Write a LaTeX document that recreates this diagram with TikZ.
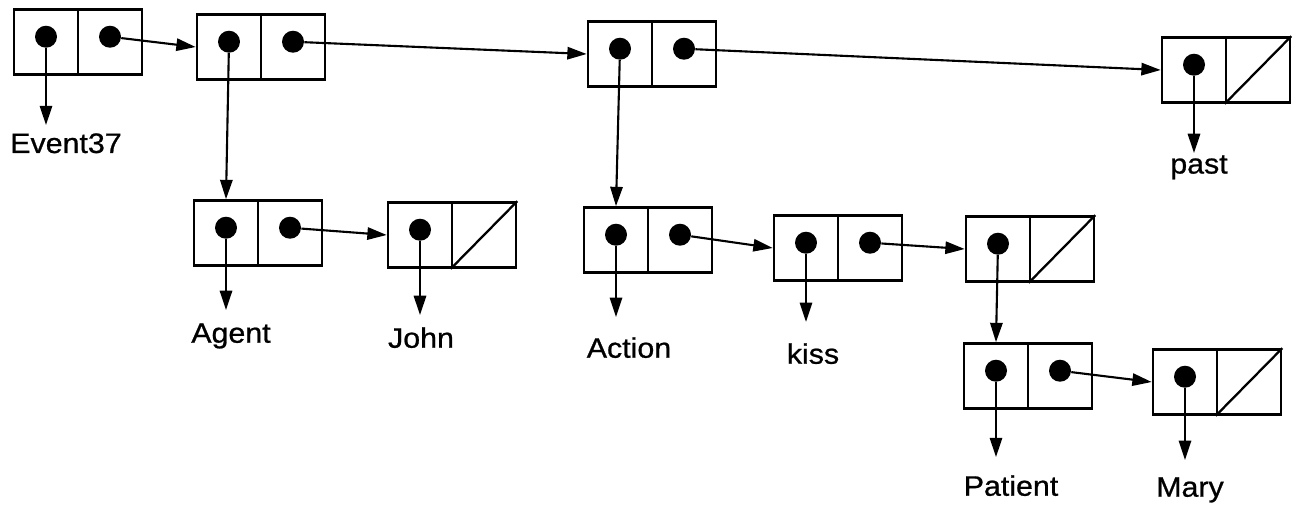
\documentclass[tikz,border=0pt]{standalone}
\usepackage{fontspec}
\setmainfont{Liberation Sans}[FakeStretch=1.08, FakeBold=0.8]
\usetikzlibrary{arrows.meta}
\tikzset{
  cell/.style={draw, line width=1.5pt, minimum width=1.28cm, minimum height=1.3cm, inner sep=0pt},
  ptr/.style={circle, fill=black, minimum size=0.44cm, inner sep=0pt},
  arr/.style={line width=1.2pt, -{Triangle[length=11pt,width=7pt]}},
  lab/.style={anchor=north, inner sep=0pt, font=\fontsize{16}{19}\selectfont}
}

\begin{document}
\begin{tikzpicture}[x=0.02cm, y=-0.02cm]
  \useasboundingbox (0,0) rectangle (1303,517);

  % cons cells: car centre
  \foreach \n/\x/\y in {e1/46/42, e2/229/47, e3/620/54, e4/1194/70,
      ag1/226/233, ag2/420/235, ac1/616/240, ac2/806/248,
      ac3/998/249, pt1/996/376, pt2/1185/382} {
    \node[cell] (\n-car) at (\x,\y) {};
    \node[cell] (\n-cdr) at (\x+64,\y) {};
    \node[ptr] (\n-a) at ([yshift=3pt]\n-car) {};
  }
  \foreach \n in {e1, e2, e3, ag1, ac1, ac2, pt1}
    \node[ptr] (\n-d) at ([yshift=3pt]\n-cdr) {};
  % nil
  \foreach \n in {e4, ag2, ac3, pt2}
    \draw[line width=1.3pt] (\n-cdr.south west) -- (\n-cdr.north east);

  \draw[arr] (e1-d) -- (e2-car.west);
  \draw[arr] (e2-d) -- (e3-car.west);
  \draw[arr] (e3-d) -- (e4-car.west);
  \draw[arr] (e2-a) -- (ag1-car.north);
  \draw[arr] (ag1-d) -- (ag2-car.west);
  \draw[arr] (e3-a) -- (ac1-car.north);
  \draw[arr] (ac1-d) -- (ac2-car.west);
  \draw[arr] (ac2-d) -- (ac3-car.west);
  \draw[arr] (ac3-a) -- (pt1-car.north);
  \draw[arr] (pt1-d) -- (pt2-car.west);

  % atoms
  \foreach \c/\l/\t/\x/\y/\g in {e1/evl/Event37/66/133/4.5, ag1/agl/Agent/231/323/7.4,
      ag2/jol/John/421/327/6.8, ac1/acl/Action/629/337/11.4, ac2/kil/kiss/813/343/12,
      e4/pal/past/1199/155/1.1, pt1/ptl/Patient/1011/475/10.2, pt2/mal/Mary/1190/477/9.7} {
    \node[lab] (\l) at (\x,\y) {\t};
    \draw[arr, shorten >=\g pt] (\c-a) -- (\c-a |- \l.north);
  }
\end{tikzpicture}
\end{document}
